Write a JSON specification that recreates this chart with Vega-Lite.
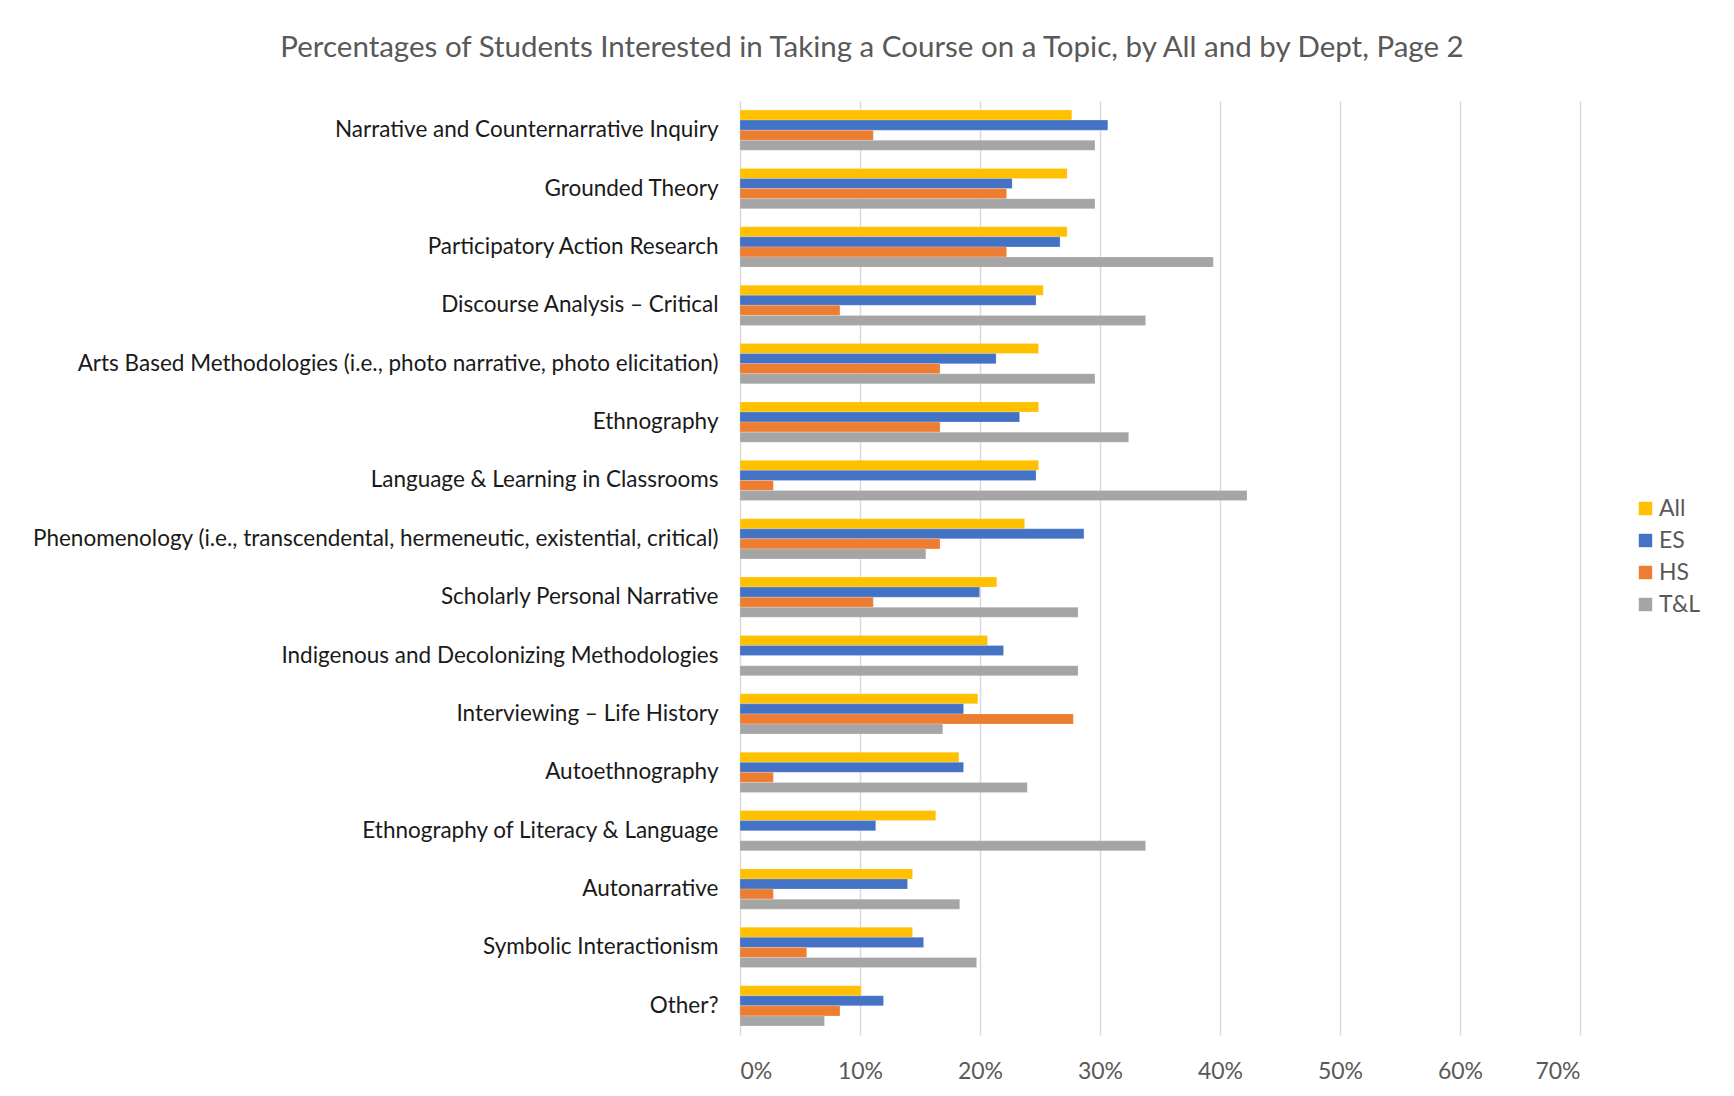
{
  "$schema": "https://vega.github.io/schema/vega-lite/v6.json",
  "autosize": {"type": "none"},
  "padding": {"left": 740, "top": 101, "right": 154, "bottom": 61},
  "width": 840,
  "height": 934,
  "background": "white",
  "title": {
    "text": "Percentages of Students Interested in Taking a Course on a Topic, by All and by Dept, Page 2",
    "font": "Lato",
    "fontSize": 29.5,
    "fontWeight": "normal",
    "color": "#595959",
    "anchor": "middle",
    "dx": -288,
    "offset": 38
  },
  "data": {
    "values": [
      {"topic": "Narrative and Counternarrative Inquiry", "group": "All", "value": 0.2765},
      {"topic": "Narrative and Counternarrative Inquiry", "group": "ES", "value": 0.3065},
      {"topic": "Narrative and Counternarrative Inquiry", "group": "HS", "value": 0.1111},
      {"topic": "Narrative and Counternarrative Inquiry", "group": "T&L", "value": 0.2958},
      {"topic": "Grounded Theory", "group": "All", "value": 0.2726},
      {"topic": "Grounded Theory", "group": "ES", "value": 0.2268},
      {"topic": "Grounded Theory", "group": "HS", "value": 0.2222},
      {"topic": "Grounded Theory", "group": "T&L", "value": 0.2958},
      {"topic": "Participatory Action Research", "group": "All", "value": 0.2726},
      {"topic": "Participatory Action Research", "group": "ES", "value": 0.2667},
      {"topic": "Participatory Action Research", "group": "HS", "value": 0.2222},
      {"topic": "Participatory Action Research", "group": "T&L", "value": 0.3944},
      {"topic": "Discourse Analysis – Critical", "group": "All", "value": 0.2527},
      {"topic": "Discourse Analysis – Critical", "group": "ES", "value": 0.2467},
      {"topic": "Discourse Analysis – Critical", "group": "HS", "value": 0.0833},
      {"topic": "Discourse Analysis – Critical", "group": "T&L", "value": 0.338},
      {"topic": "Arts Based Methodologies (i.e., photo narrative, photo elicitation)", "group": "All", "value": 0.2488},
      {"topic": "Arts Based Methodologies (i.e., photo narrative, photo elicitation)", "group": "ES", "value": 0.2134},
      {"topic": "Arts Based Methodologies (i.e., photo narrative, photo elicitation)", "group": "HS", "value": 0.1667},
      {"topic": "Arts Based Methodologies (i.e., photo narrative, photo elicitation)", "group": "T&L", "value": 0.2958},
      {"topic": "Ethnography", "group": "All", "value": 0.2488},
      {"topic": "Ethnography", "group": "ES", "value": 0.233},
      {"topic": "Ethnography", "group": "HS", "value": 0.1667},
      {"topic": "Ethnography", "group": "T&L", "value": 0.3239},
      {"topic": "Language & Learning in Classrooms", "group": "All", "value": 0.2488},
      {"topic": "Language & Learning in Classrooms", "group": "ES", "value": 0.2467},
      {"topic": "Language & Learning in Classrooms", "group": "HS", "value": 0.0278},
      {"topic": "Language & Learning in Classrooms", "group": "T&L", "value": 0.4225},
      {"topic": "Phenomenology (i.e., transcendental, hermeneutic, existential, critical)", "group": "All", "value": 0.2372},
      {"topic": "Phenomenology (i.e., transcendental, hermeneutic, existential, critical)", "group": "ES", "value": 0.2866},
      {"topic": "Phenomenology (i.e., transcendental, hermeneutic, existential, critical)", "group": "HS", "value": 0.1667},
      {"topic": "Phenomenology (i.e., transcendental, hermeneutic, existential, critical)", "group": "T&L", "value": 0.1549},
      {"topic": "Scholarly Personal Narrative", "group": "All", "value": 0.214},
      {"topic": "Scholarly Personal Narrative", "group": "ES", "value": 0.1997},
      {"topic": "Scholarly Personal Narrative", "group": "HS", "value": 0.1111},
      {"topic": "Scholarly Personal Narrative", "group": "T&L", "value": 0.2817},
      {"topic": "Indigenous and Decolonizing Methodologies", "group": "All", "value": 0.2063},
      {"topic": "Indigenous and Decolonizing Methodologies", "group": "ES", "value": 0.2196},
      {"topic": "Indigenous and Decolonizing Methodologies", "group": "HS", "value": 0},
      {"topic": "Indigenous and Decolonizing Methodologies", "group": "T&L", "value": 0.2817},
      {"topic": "Interviewing – Life History", "group": "All", "value": 0.1982},
      {"topic": "Interviewing – Life History", "group": "ES", "value": 0.1863},
      {"topic": "Interviewing – Life History", "group": "HS", "value": 0.2778},
      {"topic": "Interviewing – Life History", "group": "T&L", "value": 0.169},
      {"topic": "Autoethnography", "group": "All", "value": 0.1824},
      {"topic": "Autoethnography", "group": "ES", "value": 0.1863},
      {"topic": "Autoethnography", "group": "HS", "value": 0.0278},
      {"topic": "Autoethnography", "group": "T&L", "value": 0.2394},
      {"topic": "Ethnography of Literacy & Language", "group": "All", "value": 0.1631},
      {"topic": "Ethnography of Literacy & Language", "group": "ES", "value": 0.1131},
      {"topic": "Ethnography of Literacy & Language", "group": "HS", "value": 0},
      {"topic": "Ethnography of Literacy & Language", "group": "T&L", "value": 0.338},
      {"topic": "Autonarrative", "group": "All", "value": 0.1438},
      {"topic": "Autonarrative", "group": "ES", "value": 0.1396},
      {"topic": "Autonarrative", "group": "HS", "value": 0.0278},
      {"topic": "Autonarrative", "group": "T&L", "value": 0.1831},
      {"topic": "Symbolic Interactionism", "group": "All", "value": 0.1438},
      {"topic": "Symbolic Interactionism", "group": "ES", "value": 0.153},
      {"topic": "Symbolic Interactionism", "group": "HS", "value": 0.0556},
      {"topic": "Symbolic Interactionism", "group": "T&L", "value": 0.1972},
      {"topic": "Other?", "group": "All", "value": 0.1009},
      {"topic": "Other?", "group": "ES", "value": 0.1196},
      {"topic": "Other?", "group": "HS", "value": 0.0833},
      {"topic": "Other?", "group": "T&L", "value": 0.0704}
    ]
  },
  "mark": {"type": "bar", "stroke": "white", "strokeWidth": 0.5, "strokeOpacity": 0.4},
  "encoding": {
    "y": {
      "field": "topic",
      "type": "nominal",
      "sort": null,
      "title": null,
      "scale": {"paddingInner": 0.31, "paddingOuter": 0.155},
      "axis": {
        "domain": false,
        "ticks": false,
        "grid": false,
        "labelFont": "Lato",
        "labelFontSize": 22.5,
        "labelColor": "#1a1a1a",
        "labelPadding": 22,
        "labelLimit": 800
      }
    },
    "yOffset": {
      "field": "group",
      "type": "nominal",
      "sort": ["All", "ES", "HS", "T&L"],
      "scale": {"paddingInner": 0, "paddingOuter": 0}
    },
    "x": {
      "field": "value",
      "type": "quantitative",
      "title": null,
      "scale": {"domain": [0, 0.7], "nice": false},
      "axis": {
        "format": ".0%",
        "values": [0, 0.1, 0.2, 0.3, 0.4, 0.5, 0.6, 0.7],
        "domain": false,
        "ticks": false,
        "grid": true,
        "gridColor": "#d9d9d9",
        "gridWidth": 1.5,
        "labelFont": "Lato",
        "labelFontSize": 23,
        "labelColor": "#595959",
        "labelPadding": 25
      }
    },
    "color": {
      "field": "group",
      "type": "nominal",
      "sort": ["All", "ES", "HS", "T&L"],
      "scale": {"domain": ["All", "ES", "HS", "T&L"], "range": ["#FFC000", "#4472C4", "#ED7D31", "#A5A5A5"]},
      "legend": {
        "title": null,
        "orient": "none",
        "legendX": 894,
        "legendY": 396,
        "symbolType": "square",
        "symbolSize": 180,
        "symbolStrokeWidth": 0,
        "labelFont": "Lato",
        "labelFontSize": 23,
        "labelColor": "#595959",
        "labelOffset": 2,
        "rowPadding": 8
      }
    }
  },
  "config": {"view": {"stroke": null}}
}
